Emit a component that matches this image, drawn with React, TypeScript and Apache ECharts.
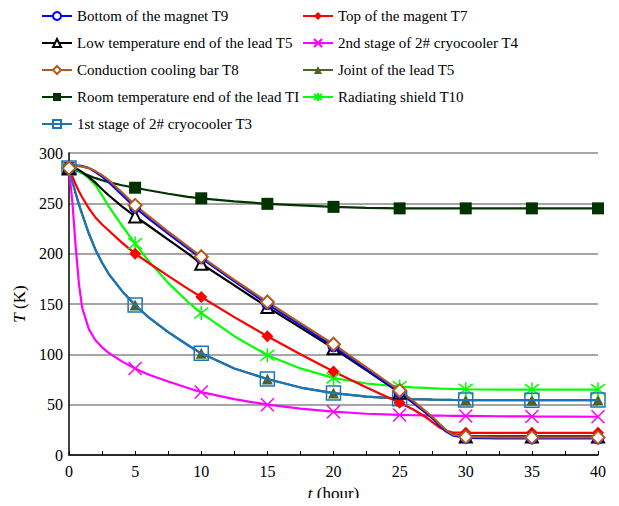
import React, { useEffect, useRef } from "react";
import * as echarts from "echarts";

const hours = [0, 0.25, 0.5, 0.75, 1, 1.5, 2, 2.5, 3, 4, 5, 6, 7.5, 9, 10, 12.5, 15, 17.5, 20, 22.5, 25, 26, 27, 27.5, 28, 28.5, 29, 30, 32.5, 35, 37.5, 40];

const bottomMagnetT9 = [285, 286.5, 287.5, 287.5, 287, 285, 281, 276.5, 271, 258.5, 246, 235, 220, 205, 195.5, 172.5, 150, 129, 108, 85, 62, 52, 41.5, 36, 29.5, 23.5, 19.5, 17, 16.5, 16.5, 16.5, 16.5];
const topMagnetT7 = [285, 277, 269, 262, 256, 245, 236, 229, 223, 211, 200, 191, 178, 165, 157, 137, 118, 100, 83, 67, 52, 45.5, 37.5, 32.5, 27.5, 24, 22.5, 22, 22, 22, 22, 22];
const lowTempLeadT5 = [285, 285, 284.5, 283, 281, 276, 270.5, 264, 258, 247, 237, 228, 214, 200, 190, 168.5, 147, 126.5, 106, 84, 62, 52.5, 42.5, 37, 30.5, 24.5, 20.5, 18.5, 18.5, 18.5, 18.5, 18.5];
const secondStageT4 = [285, 252, 208, 170, 146, 125, 114, 107, 101.5, 93, 86, 80, 73, 66.5, 62.5, 55.5, 50, 46, 43, 41, 39.8, 39.5, 39.3, 39.2, 39.1, 39, 38.9, 38.8, 38.5, 38.3, 38.2, 38];
const coolingBarT8 = [285, 286, 287, 287, 286.5, 285, 282, 278, 273, 261, 248, 237.5, 222, 207, 197, 174, 152, 131, 110, 87, 64, 54, 43, 37.5, 31, 25, 20.5, 18, 17.5, 17.5, 17.5, 17.5];
const jointLeadT5 = [285, 272, 260, 249, 239, 220, 204, 191, 180, 163, 149, 137, 122, 109, 101, 86, 75.5, 67, 61.5, 58, 56, 55.5, 55.2, 55, 54.9, 54.8, 54.7, 54.6, 54.5, 54.5, 54.5, 54.6];
const roomTempLeadTI = [285, 284, 283, 281.5, 280, 277.5, 275, 273, 271, 268, 265.5, 263, 259.5, 256.5, 255, 252, 249.5, 248, 246.5, 245.5, 245, 245, 245, 245, 245, 245, 245, 245, 245, 245, 245, 245];
const shieldT10 = [285, 284.5, 283.5, 282, 280, 275, 268, 258, 247, 228, 210, 193, 171, 152, 141, 118, 99, 86, 76.5, 71, 68, 67.2, 66.6, 66.3, 66, 65.8, 65.6, 65.3, 65, 65, 65, 65];
const firstStageT3 = [285, 272, 260, 249, 239, 220, 204, 191, 180, 163, 149, 137, 122, 109, 101, 86, 75.5, 67, 61.5, 58, 56, 55.5, 55.2, 55, 54.9, 54.8, 54.7, 54.6, 54.5, 54.5, 54.5, 54.6];

const xTicks = [0, 5, 10, 15, 20, 25, 30, 35, 40];
const yTicks = [0, 50, 100, 150, 200, 250, 300];

const FONT = "Liberation Serif";
const CSS_FONT = "'Liberation Serif', Tinos, serif";
const X_PATH = "path://M0,0L10,10M10,0L0,10";
const STAR_PATH = "path://M0,0L10,10M10,0L0,10M5,-1.5L5,11.5";
const RECT_PATH = "path://M0,0L10,0L10,10L0,10Z";

function pairs(vals: number[]) {
  return hours.map((h, i) => [h, vals[i]]);
}

type Spec = {
  name: string;
  values: number[];
  color: string;
  symbol: string;
  size: number;
  hollow?: boolean;
  strokeOnly?: boolean;
  transparentFill?: boolean;
  z?: number;
};

const specs: Spec[] = [
  { name: "Joint of the lead T5", values: jointLeadT5, color: "#4F6228", symbol: "triangle", size: 11, z: 2 },
  { name: "Room temperature end of the lead TI", values: roomTempLeadTI, color: "#003300", symbol: "rect", size: 12, z: 3 },
  { name: "2nd stage of 2# cryocooler T4", values: secondStageT4, color: "#FF00FF", symbol: X_PATH, size: 13, strokeOnly: true, z: 3 },
  { name: "Radiating shield T10", values: shieldT10, color: "#00FF00", symbol: STAR_PATH, size: 14, strokeOnly: true, z: 3 },
  { name: "1st stage of 2# cryocooler T3", values: firstStageT3, color: "#1B75BB", symbol: RECT_PATH, size: 14, transparentFill: true, z: 3 },
  { name: "Top of the magent T7", values: topMagnetT7, color: "#FF0000", symbol: "diamond", size: 12, z: 3 },
  { name: "Low temperature end of the lead T5", values: lowTempLeadT5, color: "#000000", symbol: "emptyTriangle", size: 12, hollow: true, z: 3 },
  { name: "Bottom of the magnet T9", values: bottomMagnetT9, color: "#0000FF", symbol: "emptyCircle", size: 10, hollow: true, z: 3 },
  { name: "Conduction cooling bar T8", values: coolingBarT8, color: "#B35A1F", symbol: "emptyDiamond", size: 13, hollow: true, z: 3 },
];

const legendLeft = [
  "Bottom of the magnet T9",
  "Low temperature end of the lead T5",
  "Conduction cooling bar T8",
  "Room temperature end of the lead TI",
  "1st stage of 2# cryocooler T3",
];
const legendRight = [
  "Top of the magent T7",
  "2nd stage of 2# cryocooler T4",
  "Joint of the lead T5",
  "Radiating shield T10",
];

export default function App() {
  const ref = useRef<HTMLDivElement>(null);
  useEffect(() => {
    if (!ref.current) return;
    const el = ref.current;
    const chart = echarts.init(el, undefined, { renderer: "svg" });
    const series = specs.map((s) => {
      let itemStyle: any;
      if (s.strokeOnly) {
        itemStyle = { color: s.color, borderColor: s.color, borderWidth: 1.5 };
      } else if (s.transparentFill) {
        itemStyle = { color: "rgba(0,0,0,0)", borderColor: s.color, borderWidth: 1.5 };
      } else if (s.hollow) {
        itemStyle = { color: s.color, borderColor: s.color, borderWidth: 1.2 };
      } else {
        itemStyle = { color: s.color };
      }
      return {
        name: s.name,
        type: "line",
        data: pairs(s.values),
        z: s.z,
        smooth: false,
        showAllSymbol: true,
        symbol: s.symbol,
        symbolSize: (v: number[]) => (xTicks.includes(v[0]) ? s.size : 0),
        lineStyle: { color: s.color, width: 2.2 },
        itemStyle,
        emphasis: { disabled: true },
      };
    });
    const legendBase = {
      orient: "vertical",
      padding: 0,
      itemWidth: 30,
      itemHeight: 10,
      itemGap: 11,
      textStyle: { fontFamily: FONT, fontSize: 15, color: "#000", lineHeight: 16 },
      selectedMode: false,
    };
    chart.setOption({
      animation: false,
      textStyle: { fontFamily: FONT },
      grid: { left: 61, right: 13, top: 145, bottom: 43, containLabel: false, outerBoundsMode: "none" },
      legend: [
        { ...legendBase, left: 33, top: 0, data: legendLeft },
        { ...legendBase, left: 294, top: 0, data: legendRight },
      ],
      xAxis: {
        type: "value",
        min: xTicks[0],
        max: xTicks[xTicks.length - 1],
        interval: 5,
        name: "{i|t} (hour)",
        nameLocation: "middle",
        nameGap: 30,
        nameTextStyle: {
          fontFamily: FONT,
          fontSize: 17,
          color: "#000",
          rich: { i: { fontStyle: "italic", fontFamily: FONT, fontSize: 17, color: "#000" } },
        },
        axisLine: { lineStyle: { color: "#000", width: 1.5 } },
        axisTick: { inside: true, length: 4, lineStyle: { color: "#000", width: 1 } },
        minorTick: { show: true, splitNumber: 2, length: 4, lineStyle: { color: "#000", width: 1 } },
        axisLabel: { fontFamily: FONT, fontSize: 16, color: "#000", margin: 8 },
        splitLine: { show: false },
      },
      yAxis: {
        type: "value",
        min: yTicks[0],
        max: yTicks[yTicks.length - 1],
        interval: 50,
        name: "{i|T} (K)",
        nameLocation: "middle",
        nameGap: 28,
        nameRotate: 90,
        nameTextStyle: {
          fontFamily: FONT,
          fontSize: 17,
          color: "#000",
          rich: { i: { fontStyle: "italic", fontFamily: FONT, fontSize: 17, color: "#000" } },
        },
        axisLine: { show: true, lineStyle: { color: "#000", width: 1.5 } },
        axisTick: { show: false },
        axisLabel: { fontFamily: FONT, fontSize: 16, color: "#000", margin: 6 },
        splitLine: { show: true, lineStyle: { color: "#A6A6A6", width: 1.8 } },
      },
      series,
    });
    const fixFonts = () => {
      el.querySelectorAll("text").forEach((t) => {
        (t as SVGTextElement).style.fontFamily = CSS_FONT;
      });
    };
    fixFonts();
    chart.on("finished", fixFonts);
    return () => chart.dispose();
  }, []);
  return (
    <div style={{ position: "relative" }}>
      <div ref={ref} style={{ width: 603, height: 490 }} />
      <div
        aria-hidden="true"
        style={{ position: "absolute", right: 0, bottom: 0, color: "#fff", fontFamily: CSS_FONT, fontSize: 2, lineHeight: "2px" }}
      >
        .
      </div>
    </div>
  );
}
